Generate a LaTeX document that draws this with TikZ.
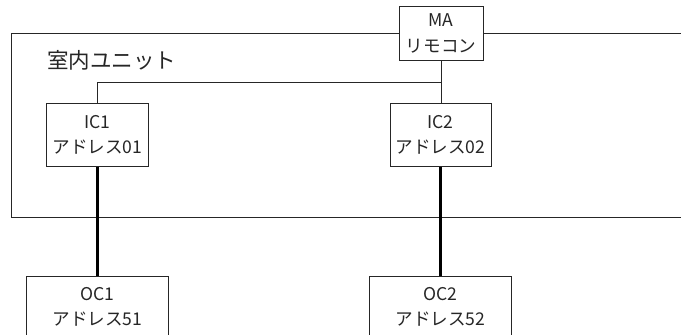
\documentclass[tikz,border=0pt]{standalone}
\usepackage{fontspec}
\setmainfont{Noto Sans CJK JP}
\usetikzlibrary{positioning}

\begin{document}
\begin{tikzpicture}[x=0.025cm, y=-0.025cm,
  unit/.style={draw=black!85, line width=0.7pt, align=center, inner sep=0pt,
    text=black!85, font=\fontsize{12.5}{18}\selectfont, minimum height=1.55cm},
  thin/.style={draw=black!85, line width=0.7pt},
  trunk/.style={draw=black, line width=1.6pt}]
  \useasboundingbox (0,0) rectangle (681,334);
  \clip (0,0) rectangle (681,334);
  \node[unit, minimum width=2.1cm, minimum height=1.325cm] (MA) at (441,33.5) {MA\\リモコン};
  \node[unit, minimum width=2.525cm] (IC1) at (97.5,135) {IC1\\アドレス01};
  \node[unit, minimum width=2.525cm] (IC2) at (440.5,135) {IC2\\アドレス02};
  \node[unit, minimum width=3.525cm, below=2.725cm of IC1] (OC1) {OC1\\アドレス51};
  \node[unit, minimum width=3.55cm, below=2.725cm of IC2] (OC2) {OC2\\アドレス52};
  % indoor unit frame
  \draw[thin] (MA.west) -| (11,217) -- (700,217);
  \draw[thin] (MA.east) -- (700,33.5);
  \node[text=black!85, font=\fontsize{15.3}{18}\selectfont, anchor=west, inner sep=0pt] (indoor) at (47,60) {室内ユニット};
  % remote controller wiring
  \coordinate (tap) at (MA.south |- 0,82);
  \draw[thin] (MA.south) -- (MA.south |- IC2.north);
  \draw[thin] (tap) -| (IC1.north);
  % transmission lines
  \draw[trunk] (IC1) -- (OC1);
  \draw[trunk] (IC2) -- (OC2);
\end{tikzpicture}
\end{document}
